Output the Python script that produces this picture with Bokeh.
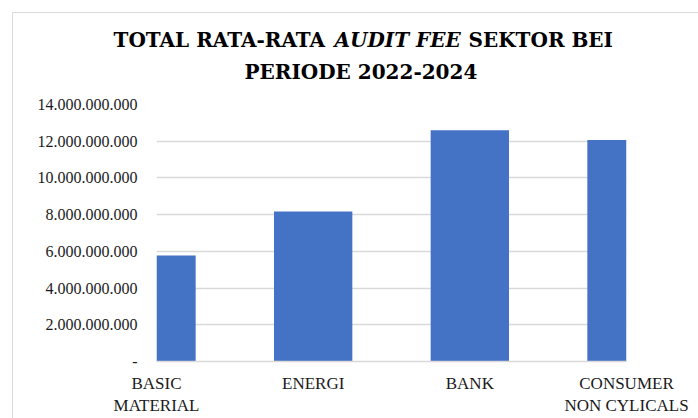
from bokeh.plotting import figure
from bokeh.layouts import column
from bokeh.models import Range1d, FixedTicker, Label
from bokeh.embed import file_html
from bokeh.resources import INLINE

# ---- data ----
categories = ["BASIC\nMATERIAL", "ENERGI", "BANK", "CONSUMER\nNON CYLICALS"]
values = [5.77e9, 8.17e9, 12.60e9, 12.07e9]
y_ticks = [0, 2e9, 4e9, 6e9, 8e9, 10e9, 12e9, 14e9]
y_tick_labels = ["-", "2.000.000.000", "4.000.000.000", "6.000.000.000",
                 "8.000.000.000", "10.000.000.000", "12.000.000.000", "14.000.000.000"]
title_parts = ["TOTAL RATA-RATA", "AUDIT FEE", "SEKTOR BEI"]
title_line2 = "PERIODE 2022-2024"

FONT = "Liberation Serif"
TFONT = "DejaVu Serif"
BLUE = "#4472C4"
GRID = "#d9d9d9"
TXT = "#1a1a1a"

OX, OY = 13, 13
W, H = 698, 418
SPLIT = 94

# title strip: its frame fills the whole strip, coordinates are page pixels
tfig = figure(width=W - OX, height=SPLIT - OY, output_backend="svg", toolbar_location=None,
              x_range=Range1d(OX, W), y_range=Range1d(SPLIT, OY),
              x_axis_location=None, y_axis_location=None,
              min_border=0, min_border_left=0, min_border_right=0,
              min_border_top=0, min_border_bottom=0)
tfig.frame_align = False
tfig.outline_line_color = None
tfig.grid.visible = False
tfig.background_fill_color = "white"
tfig.border_fill_color = "white"

common = dict(text_font=TFONT, text_font_size="20px", text_color="black",
              text_baseline="alphabetic", text_align="left")
tfig.add_layout(Label(x=113, y=39, text=title_parts[0], text_font_style="bold", **common))
tfig.add_layout(Label(x=334, y=39, text=title_parts[1], text_font_style="bold italic", **common))
tfig.add_layout(Label(x=468, y=39, text=title_parts[2], text_font_style="bold", **common))
tfig.add_layout(Label(x=244, y=71.5, text=title_line2, text_font_style="bold", **common))

xs = list(range(len(categories)))
p = figure(width=W - OX, height=H - SPLIT, output_backend="svg", toolbar_location=None,
           x_range=Range1d(xs[0], xs[-1]), y_range=Range1d(y_ticks[0], y_ticks[-1]),
           min_border_left=156 - OX, min_border_right=W - 626,
           min_border_top=104 - SPLIT, min_border_bottom=H - 365)
p.frame_align = False
p.outline_line_color = None
p.background_fill_color = "white"
p.border_fill_color = "white"

p.vbar(x=xs, top=values, width=0.5, bottom=0, fill_color=BLUE, line_color=None)

p.xaxis.ticker = FixedTicker(ticks=xs)
p.xaxis.major_label_overrides = {x: c for x, c in zip(xs, categories)}
p.xaxis.axis_line_color = GRID
p.xaxis.axis_line_width = 1.5
p.xaxis.major_tick_line_color = None
p.xaxis.major_tick_out = 0
p.xaxis.minor_tick_line_color = None
p.xaxis.major_label_text_font = FONT
p.xaxis.major_label_text_font_size = "17px"
p.xaxis.major_label_text_color = TXT
p.xaxis.major_label_standoff = 12

p.yaxis.ticker = FixedTicker(ticks=y_ticks)
p.yaxis.major_label_overrides = {int(t): l for t, l in zip(y_ticks, y_tick_labels)}
p.yaxis.axis_line_color = None
p.yaxis.major_tick_line_color = None
p.yaxis.major_tick_out = 0
p.yaxis.minor_tick_line_color = None
p.yaxis.major_label_text_font = FONT
p.yaxis.major_label_text_font_size = "16px"
p.yaxis.major_label_text_color = TXT
p.yaxis.major_label_standoff = 19

p.xgrid.grid_line_color = None
p.ygrid.ticker = FixedTicker(ticks=y_ticks[1:])
p.ygrid.grid_line_color = GRID
p.ygrid.grid_line_width = 1.5

layout = column(tfig, p, spacing=0,
                styles={"margin-left": "12px", "margin-top": "12px",
                        "border-left": "1px solid #d9d9d9",
                        "border-top": "1px solid #d9d9d9"})

open("out.html", "w").write(file_html(layout, INLINE))
